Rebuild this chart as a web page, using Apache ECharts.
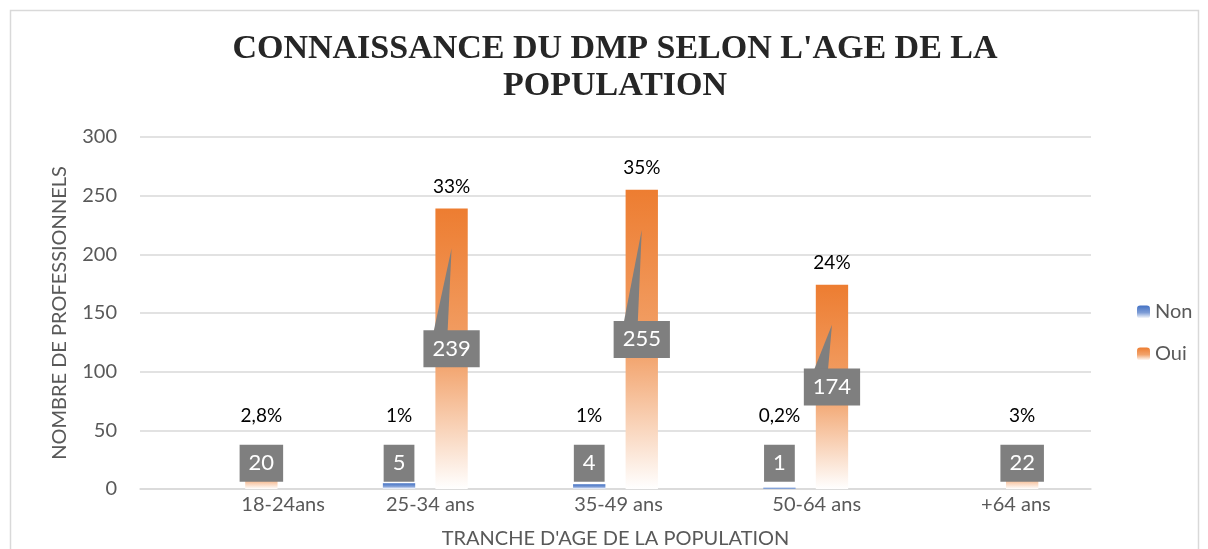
<!DOCTYPE html>
<html><head><meta charset="utf-8">
<script src="https://cdn.jsdelivr.net/npm/echarts@6/dist/echarts.min.js"></script>
<style>html,body{margin:0;padding:0;background:#fff}#c{width:1208px;height:549px}</style>
</head><body><div id="c"></div>
<script>
const categories = ['18-24ans', '25-34 ans', '35-49 ans', '50-64 ans', '+64 ans'];
const nonValues = [null, 5, 4, 1, null];
const ouiValues = [20, 239, 255, 174, 22];
const nonPercents = [null, '1%', '1%', '0,2%', null];
const ouiPercents = ['2,8%', '33%', '35%', '24%', '3%'];
const yMin = 0, yMax = 300, yInterval = 50;

const FONT = 'Lato, "Open Sans", sans-serif';
const BAR_W = 0.17, GAP_R = 0.625;

function labelRenderer(side, percents) {
  return function (params, api) {
    const i = api.value(0), v = api.value(1);
    const band = api.size([1, 0])[0];
    const bw = band * BAR_W, gap = bw * GAP_R;
    const base = api.coord([i, 0]);
    const cx = base[0] + side * (bw + gap) / 2;
    const top = api.coord([i, v])[1];
    const children = [];
    const pctY = Math.min(top - 22, base[1] - 73);
    children.push({type: 'text', style: {text: percents[i], x: cx, y: pctY, align: 'center', verticalAlign: 'middle', fontSize: 19, fontFamily: FONT, fill: '#000'}});
    const boxY = api.coord([i, Math.max(v / 2, 22)])[1];
    if (v > 50) {
      const boxTop = boxY - 19;
      const tip = api.coord([i, v - 34])[1];
      children.push({type: 'polygon', shape: {points: [[cx - 18, boxTop + 2], [cx - 4, boxTop + 2], [cx, tip]]}, style: {fill: '#7F7F7F'}});
    }
    children.push({type: 'text', style: {text: String(v), x: cx, y: boxY, align: 'center', verticalAlign: 'middle', fontSize: 22, fontFamily: FONT, fill: '#fff', backgroundColor: '#7F7F7F', padding: [8, 9, 7, 9]}});
    return {type: 'group', children};
  };
}

function grad(c1, c2) {
  return new echarts.graphic.LinearGradient(0, 0, 0, 1, [
    {offset: 0, color: c1}, {offset: 0.55, color: c2}, {offset: 1, color: '#FFFFFF'}
  ]);
}

const catShift = [96, 10, 6, 22, 40];
const rich = {};
catShift.forEach((s, k) => { rich['c' + k] = {padding: [0, 0, 0, s], fontSize: 20, color: '#595959', fontFamily: FONT}; });

const chart = echarts.init(document.getElementById('c'), null, {renderer: 'canvas'});
chart.setOption({
  animation: false,
  backgroundColor: '#fff',
  graphic: [{type: 'rect', shape: {x: 10.5, y: 10.5, width: 1188, height: 600}, style: {fill: 'none', stroke: '#D9D9D9', lineWidth: 1.5}, silent: true}],
  title: {
    text: "CONNAISSANCE DU DMP SELON L'AGE DE LA\nPOPULATION",
    left: 615, top: 31, padding: 0,
    textStyle: {fontFamily: '"Liberation Serif", "Times New Roman", serif', fontWeight: 'bold', fontSize: 34, lineHeight: 37, color: '#262626', align: 'center'},
    textAlign: 'center'
  },
  legend: {
    data: ['Non', 'Oui'], orient: 'vertical', left: 1132, top: 297,
    itemWidth: 13, itemHeight: 13, itemGap: 22,
    textStyle: {fontSize: 20, color: '#595959', fontFamily: FONT}
  },
  grid: {left: 140, right: 117, top: 137, bottom: 60, containLabel: false, outerBoundsMode: 'none'},
  xAxis: {
    type: 'category', data: categories,
    name: "TRANCHE D'AGE DE LA POPULATION", nameLocation: 'middle', nameGap: 40,
    nameTextStyle: {fontSize: 20, color: '#595959', fontFamily: FONT},
    axisLine: {lineStyle: {color: '#D9D9D9', width: 1.5}},
    axisTick: {show: false},
    axisLabel: {margin: 6, formatter: (val, idx) => '{c' + idx + '|' + val + '}', rich}
  },
  yAxis: {
    type: 'value', min: yMin, max: yMax, interval: yInterval,
    name: 'NOMBRE DE PROFESSIONNELS', nameLocation: 'middle', nameGap: 70,
    nameTextStyle: {fontSize: 20, color: '#595959', fontFamily: FONT},
    axisLine: {show: false}, axisTick: {show: false},
    axisLabel: {fontSize: 20, color: '#595959', fontFamily: FONT, margin: 23},
    splitLine: {lineStyle: {color: '#D9D9D9', width: 1.5}}
  },
  series: [
    {name: 'Non', type: 'bar', data: nonValues, barWidth: (BAR_W * 100) + '%', barGap: (GAP_R * 100) + '%',
      itemStyle: {color: grad('#4472C4', '#7E9DD6')}},
    {name: 'Oui', type: 'bar', data: ouiValues, barWidth: (BAR_W * 100) + '%', barGap: (GAP_R * 100) + '%',
      itemStyle: {color: grad('#ED7D31', '#F2A36C')}},
    {type: 'custom', coordinateSystem: 'cartesian2d', silent: true, z: 10,
      data: nonValues.map((v, i) => [i, v]).filter(d => d[1] != null),
      renderItem: labelRenderer(-1, nonPercents)},
    {type: 'custom', coordinateSystem: 'cartesian2d', silent: true, z: 10,
      data: ouiValues.map((v, i) => [i, v]).filter(d => d[1] != null),
      renderItem: labelRenderer(1, ouiPercents)}
  ]
});
</script></body></html>
